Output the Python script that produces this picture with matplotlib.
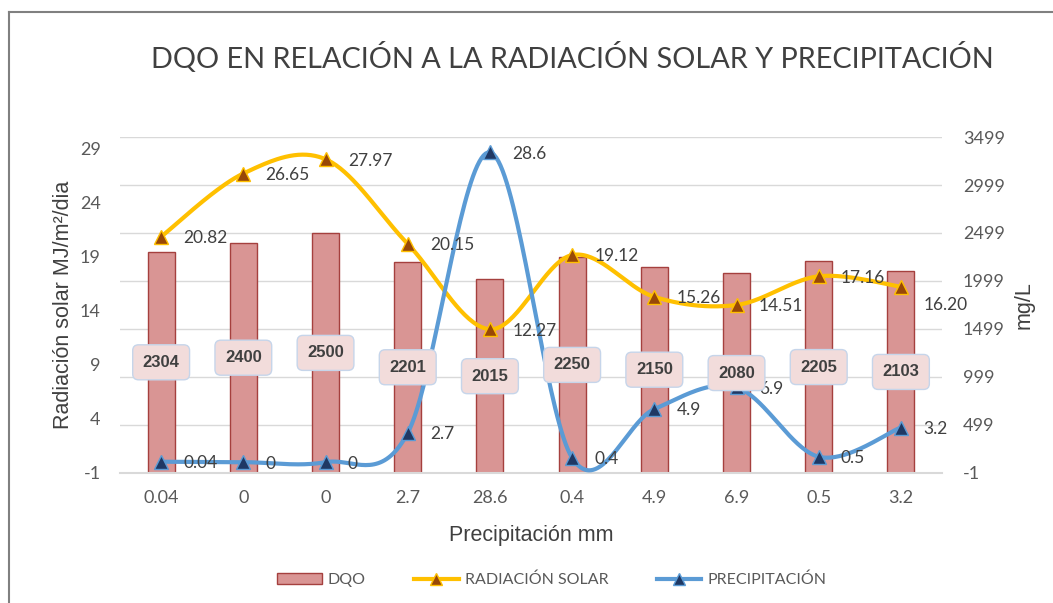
import numpy as np
import matplotlib
matplotlib.use("Agg")
import matplotlib.pyplot as plt
from matplotlib.lines import Line2D
from matplotlib.patches import Patch

# data
categorias = ["0.04", "0", "0", "2.7", "28.6", "0.4", "4.9", "6.9", "0.5", "3.2"]
dqo = [2304, 2400, 2500, 2201, 2015, 2250, 2150, 2080, 2205, 2103]
radiacion = [20.82, 26.65, 27.97, 20.15, 12.27, 19.12, 15.26, 14.51, 17.16, 16.20]
precipitacion = [0.04, 0, 0, 2.7, 28.6, 0.4, 4.9, 6.9, 0.5, 3.2]
rad_labels = ["20.82", "26.65", "27.97", "20.15", "12.27", "19.12", "15.26", "14.51", "17.16", "16.20"]
pre_labels = ["0.04", "0", "0", "2.7", "28.6", "0.4", "4.9", "6.9", "0.5", "3.2"]

plt.rcParams["axes.unicode_minus"] = False
NARROW = ["Lato", "DejaVu Sans"]
SANS = ["Liberation Sans", "DejaVu Sans"]
GRIS = "#595959"


def smooth(x, y, n=40):
	# bezier smoothing similar to the spreadsheet "smoothed line"
	x = np.asarray(x, float)
	y = np.asarray(y, float)
	xs, ys = [], []
	m = len(x)
	for i in range(m - 1):
		i0 = max(i - 1, 0)
		i3 = min(i + 2, m - 1)
		p0 = np.array([x[i0], y[i0]])
		p1 = np.array([x[i], y[i]])
		p2 = np.array([x[i + 1], y[i + 1]])
		p3 = np.array([x[i3], y[i3]])
		c1 = p1 + (p2 - p0) / 6
		c2 = p2 - (p3 - p1) / 6
		t = np.linspace(0, 1, n)[:, None]
		pts = (1 - t) ** 3 * p1 + 3 * (1 - t) ** 2 * t * c1 + 3 * (1 - t) * t ** 2 * c2 + t ** 3 * p2
		xs.extend(pts[:, 0])
		ys.extend(pts[:, 1])
	return np.array(xs), np.array(ys)


fig = plt.figure(figsize=(10.53, 6.03), dpi=100)
axL = fig.add_axes([0.114, 0.2156, 0.7806, 0.5572])
axR = axL.twinx()
axR.set_zorder(0)
axL.set_zorder(1)
axL.patch.set_visible(False)

x = np.arange(len(categorias))

# bars (right axis)
axR.bar(x, dqo, width=0.33, color="#D99594", edgecolor="#A5403E", linewidth=1, zorder=2)
axR.set_ylim(-1, 3499)
axR.set_yticks(np.arange(-1, 3500, 500))
axR.grid(axis="y", color="#D9D9D9", linewidth=1)
axR.set_axisbelow(True)

# lines (left axis)
sx, sy = smooth(x, radiacion)
axL.plot(sx, sy, color="#FFC000", linewidth=3, zorder=3)
axL.plot(x, radiacion, linestyle="none", marker="^", markersize=10,
		 markerfacecolor="#984807", markeredgecolor="#FFC000", markeredgewidth=1, zorder=4)
sx, sy = smooth(x, precipitacion)
axL.plot(sx, sy, color="#5B9BD5", linewidth=3, zorder=3)
axL.plot(x, precipitacion, linestyle="none", marker="^", markersize=10,
		 markerfacecolor="#1F3864", markeredgecolor="#5B9BD5", markeredgewidth=1, zorder=4)
axL.set_ylim(-1, 30.02)
axL.set_yticks(np.arange(-1, 30, 5))
axL.set_xlim(-0.5, len(categorias) - 0.5)
axL.set_xticks(x)
axL.set_xticklabels(categorias)

# line labels
for xi, yi, t in zip(x, radiacion, rad_labels):
	dy = -13 if t == "16.20" else -1
	axL.annotate(t, (xi, yi), xytext=(16, dy), textcoords="offset points",
				 ha="left", va="center", fontsize=12.5, color="#404040", family=NARROW, zorder=6)
for xi, yi, t in zip(x, precipitacion, pre_labels):
	axL.annotate(t, (xi, yi), xytext=(16, -1), textcoords="offset points",
				 ha="left", va="center", fontsize=12.5, color="#404040", family=NARROW, zorder=6)

# bar labels, drawn on the top axes so they cover the lines
for xi, v in zip(x, dqo):
	axL.text(xi, v / 2, str(v), transform=axR.transData, ha="center", va="center",
			 fontsize=12, fontweight="bold", color="#404040", family=SANS, zorder=7,
			 bbox=dict(boxstyle="round,pad=0.6,rounding_size=0.35", facecolor="#F2DCDB",
					   edgecolor="#C6D5EA", linewidth=1))

for ax in (axL, axR):
	for s in ax.spines.values():
		s.set_visible(False)
	ax.tick_params(length=0, labelsize=13, colors=GRIS)
	for lab in ax.get_yticklabels() + ax.get_xticklabels():
		lab.set_family(NARROW)
axR.spines["bottom"].set_visible(True)
axR.spines["bottom"].set_color("#D9D9D9")
axR.spines["bottom"].set_linewidth(1.5)
axL.tick_params(axis="y", pad=14)
axR.tick_params(axis="y", pad=15)
axL.tick_params(axis="x", pad=12)

axL.set_ylabel("Radiación solar MJ/m²/dia", fontsize=15.5, color="#404040", family=SANS, labelpad=4)
axR.set_ylabel("mg/L", fontsize=15.5, color="#404040", family=SANS, labelpad=6)
axL.set_xlabel("Precipitación mm", fontsize=15.5, color="#404040", family=SANS, labelpad=14)

fig.text(0.544, 0.905, "DQO EN RELACIÓN A LA RADIACIÓN SOLAR Y PRECIPITACIÓN",
		 ha="center", va="center", fontsize=20.8, color="#404040", family=NARROW)

handles = [
	Patch(facecolor="#D99594", edgecolor="#A5403E"),
	Line2D([], [], color="#FFC000", linewidth=3, marker="^", markersize=8,
		   markerfacecolor="#984807", markeredgecolor="#FFC000"),
	Line2D([], [], color="#5B9BD5", linewidth=3, marker="^", markersize=8,
		   markerfacecolor="#1F3864", markeredgecolor="#5B9BD5"),
]
fig.legend(handles, ["DQO", "RADIACIÓN SOLAR", "PRECIPITACIÓN"], loc="center",
		   bbox_to_anchor=(0.524, 0.038), ncol=3, frameon=False, columnspacing=3.0,
		   handlelength=2.8, handletextpad=0.4, prop={"family": NARROW, "size": 11.5},
		   labelcolor=GRIS)

# chart border (cut at the right and bottom like the original)
fig.add_artist(Line2D([0.0085, 1.0], [0.98, 0.98], color="#808080", linewidth=1.5))
fig.add_artist(Line2D([0.0085, 0.0085], [0.0, 0.98], color="#808080", linewidth=1.5))

fig.savefig("out.png", dpi=100)
